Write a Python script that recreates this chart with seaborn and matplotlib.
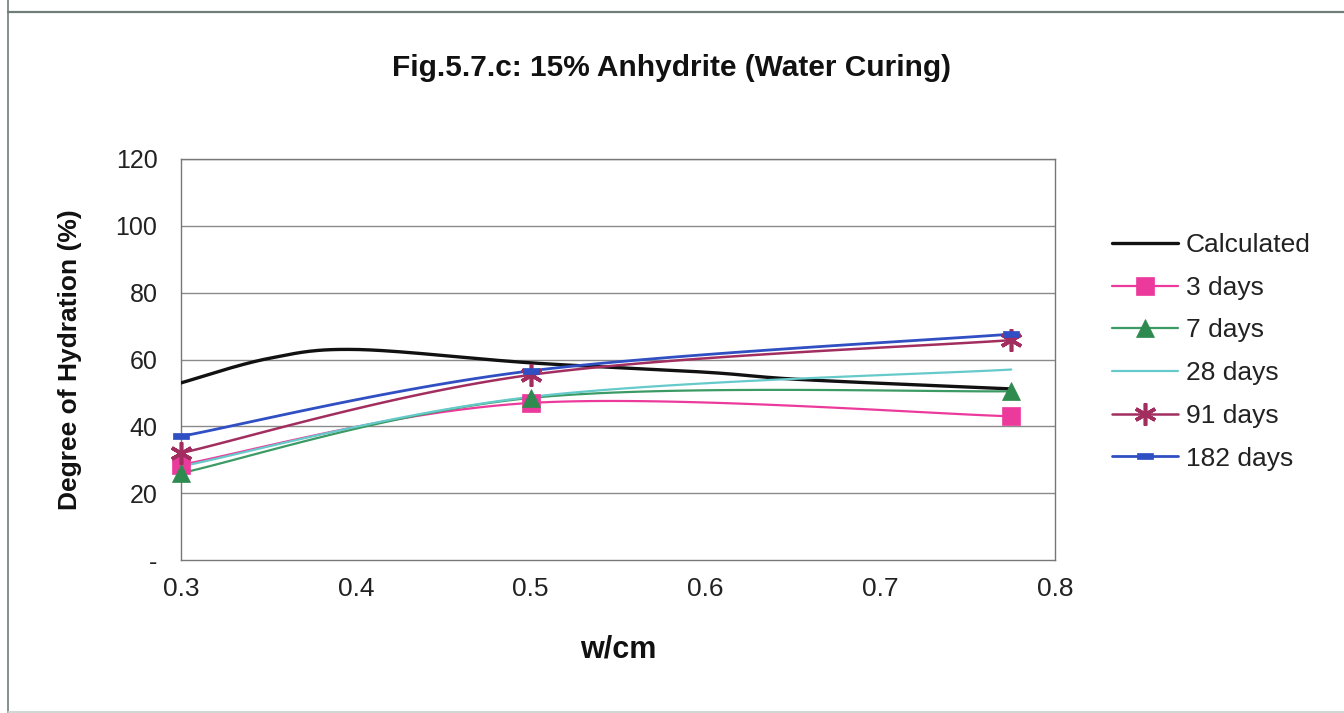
import numpy as np
import matplotlib
matplotlib.use("Agg")
import matplotlib.pyplot as plt
import seaborn as sns
from matplotlib.lines import Line2D

# ---- data ----
calc_x = [0.30, 0.35, 0.40, 0.50, 0.60, 0.655, 0.775]
calc_y = [53.0, 60.3, 63.0, 59.0, 56.2, 54.0, 51.2]
wcm = [0.30, 0.50, 0.775]
d3 = [28.5, 47.0, 43.0]
d7 = [26.0, 48.5, 50.5]
d28 = [28.0, 48.8, 57.0]
d91 = [32.0, 55.4, 65.8]
d182 = [37.0, 56.6, 67.6]
series_names = ["Calculated", "3 days", "7 days", "28 days", "91 days", "182 days"]
yticks = [0, 20, 40, 60, 80, 100, 120]
ytick_labels = ["-", "20", "40", "60", "80", "100", "120"]
xticks = [0.3, 0.4, 0.5, 0.6, 0.7, 0.8]


def smooth(xs, ys, n=40):
    P = np.column_stack([xs, ys]).astype(float)
    P = np.vstack([P[0], P, P[-1]])
    out = []
    for i in range(1, len(P) - 2):
        p0, p1, p2, p3 = P[i - 1], P[i], P[i + 1], P[i + 2]
        c1 = p1 + (p2 - p0) / 6.0
        c2 = p2 - (p3 - p1) / 6.0
        t = np.linspace(0, 1, n)[:, None]
        seg = (1 - t) ** 3 * p1 + 3 * (1 - t) ** 2 * t * c1 + 3 * (1 - t) * t ** 2 * c2 + t ** 3 * p2
        out.append(seg if i == 1 else seg[1:])
    s = np.vstack(out)
    return s[:, 0], s[:, 1]


sns.set_style("white")
plt.rcParams["font.family"] = ["Liberation Sans", "DejaVu Sans"]

fig = plt.figure(figsize=(13.44, 7.13), dpi=100)
ax = fig.add_axes([181 / 1344, 1 - 560 / 713, 874 / 1344, 401 / 713])

gridc = "#8a8a8a"
for v in yticks[1:]:
    ax.axhline(v, color=gridc, lw=1.0, zorder=0)

c_calc = "#111111"
c3 = "#EC3A9C"
c7l, c7m = "#3C9A64", "#2F8A50"
c28 = "#66CACA"
c91 = "#A22E60"
c182 = "#2F4FC2"

dash_marker = [(-1, -0.35), (1, -0.35), (1, 0.35), (-1, 0.35), (-1, -0.35)]
star_marker = (6, 2, 0)

specs = [
    (calc_x, calc_y, c_calc, 2.4, None, None, 0),
    (wcm, d3, c3, 1.6, "s", c3, 13),
    (wcm, d7, c7l, 1.6, "^", c7m, 13),
    (wcm, d28, c28, 1.6, None, None, 0),
    (wcm, d91, c91, 1.8, star_marker, c91, 16),
    (wcm, d182, c182, 2.0, dash_marker, c182, 12),
]

handles = []
for (xs, ys, col, lw, mk, mc, ms), name in zip(specs, series_names):
    sx, sy = smooth(xs, ys)
    sns.lineplot(x=sx, y=sy, ax=ax, color=col, lw=lw, sort=False, estimator=None, zorder=3)
    if mk is not None:
        mew = 2.6 if mk == star_marker else 0.5
        ax.plot(xs, ys, linestyle="none", marker=mk, markersize=ms, color=mc,
                markeredgecolor=mc, markeredgewidth=mew, zorder=4, clip_on=False)
    handles.append(Line2D([0], [0], color=col, lw=lw, marker=mk if mk is not None else None,
                          markersize=ms, markerfacecolor=mc if mc else col,
                          markeredgecolor=mc if mc else col,
                          markeredgewidth=(2.6 if mk == star_marker else 0.5)))

ax.set_xlim(0.3, 0.8)
ax.set_ylim(0, 120)
ax.set_xticks(xticks)
ax.set_xticklabels([f"{v:.1f}" for v in xticks], fontsize=19, color="#222222")
ax.set_yticks(yticks)
ax.set_yticklabels(ytick_labels, fontsize=18, color="#222222")
ax.tick_params(axis="both", direction="out", length=7, width=1.0, color="#555555", pad=10)
ax.tick_params(axis="x", pad=5)
for sp in ax.spines.values():
    sp.set_color("#777777")
    sp.set_linewidth(1.0)

ax.set_xlabel("w/cm", fontsize=22, fontweight="bold", labelpad=24, color="#111111")
ax.set_ylabel("Degree of Hydration (%)", fontsize=19, fontweight="bold", labelpad=24, color="#111111")
fig.text(0.5, 1 - 68 / 713, "Fig.5.7.c: 15% Anhydrite (Water Curing)", ha="center", va="center",
         fontsize=21.5, fontweight="bold", color="#111111")

leg = fig.legend(handles=handles, labels=series_names, loc="upper left",
                 bbox_to_anchor=(1112 / 1344, 1 - 233 / 713), frameon=False,
                 fontsize=19, handlelength=2.5, handletextpad=0.3, labelspacing=0.71,
                 borderpad=0, borderaxespad=0)
for t in leg.get_texts():
    t.set_color("#222222")

# outer frame lines (left and top, faint bottom)
bc = "#6f7f78"
fig.add_artist(Line2D([8 / 1344, 8 / 1344], [0, 1], transform=fig.transFigure, color=bc, lw=1.2))
fig.add_artist(Line2D([8 / 1344, 1], [1 - 12 / 713, 1 - 12 / 713], transform=fig.transFigure, color=bc, lw=1.6))
fig.add_artist(Line2D([8 / 1344, 1], [1 / 713, 1 / 713], transform=fig.transFigure, color="#c8cfcc", lw=1.2))

fig.savefig("out.png", dpi=100)
